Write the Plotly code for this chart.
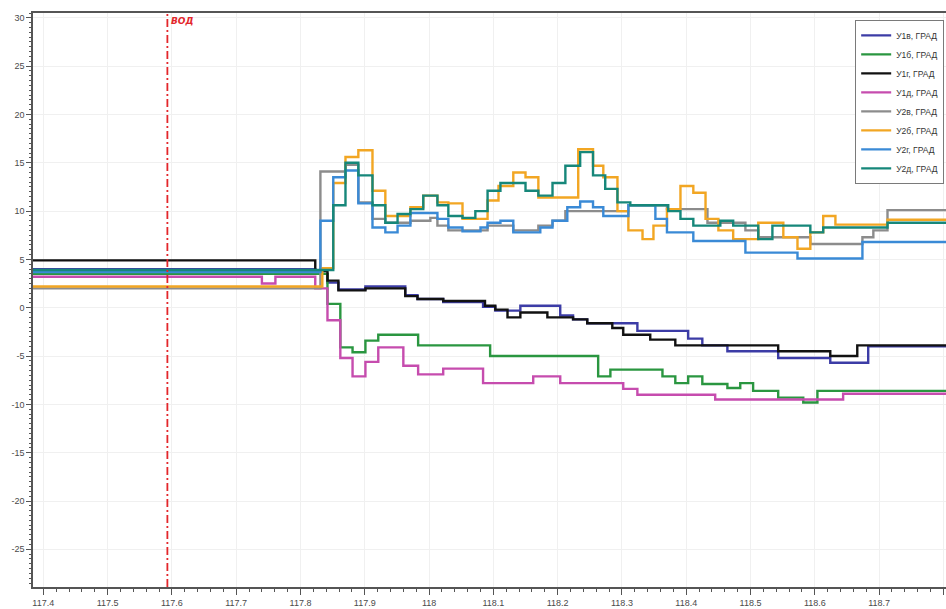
import plotly.graph_objects as go

# Step-sampled angle channels (time, value) – each value holds until the next time stamp
x_u1v = [117.38, 117.823, 117.842, 117.859, 117.901, 117.963, 117.982, 118.022, 118.084, 118.103,
         118.142, 118.204, 118.224, 118.246, 118.324, 118.403, 118.425, 118.464, 118.543, 118.624,
         118.683, 118.81]
y_u1v = [4.0, 3.5, 2.6, 1.9, 2.2, 1.3, 0.9, 0.6, 0.1, -0.3,
         0.2, -0.8, -1.2, -1.6, -2.4, -3.2, -3.9, -4.5, -5.2, -5.7,
         -4.0, -4.0]

x_u1b = [117.38, 117.842, 117.862, 117.881, 117.901, 117.921, 117.983, 118.095, 118.263, 118.282,
         118.363, 118.383, 118.403, 118.425, 118.464, 118.484, 118.504, 118.543, 118.582, 118.604,
         118.81]
y_u1b = [3.5, 0.4, -4.1, -4.6, -3.4, -2.8, -3.9, -5.0, -7.1, -6.4,
         -7.1, -7.8, -7.1, -7.9, -8.3, -7.8, -8.6, -9.3, -9.8, -8.6,
         -8.6]

x_u1g = [117.38, 117.823, 117.842, 117.859, 117.901, 117.963, 117.982, 118.022, 118.087, 118.103,
         118.122, 118.142, 118.184, 118.224, 118.246, 118.285, 118.302, 118.344, 118.383, 118.543,
         118.624, 118.666, 118.81]
y_u1g = [4.9, 3.8, 2.8, 1.8, 2.0, 1.2, 0.9, 0.7, 0.2, -0.2,
         -1.0, -0.5, -1.0, -1.2, -1.6, -2.1, -2.8, -3.3, -3.9, -4.5,
         -5.0, -3.9, -3.9]

x_u1d = [117.38, 117.74, 117.761, 117.823, 117.842, 117.862, 117.881, 117.901, 117.921, 117.960,
         117.983, 118.022, 118.084, 118.162, 118.204, 118.302, 118.324, 118.445, 118.644, 118.81]
y_u1d = [3.2, 2.5, 3.2, 2.0, -1.3, -5.2, -7.1, -5.6, -4.1, -6.0,
         -6.9, -6.3, -7.8, -7.1, -7.8, -8.4, -9.0, -9.5, -8.9, -8.9]

x_u2v = [117.38, 117.831, 117.870, 117.890, 117.912, 117.932, 117.971, 118.002, 118.013, 118.030,
         118.091, 118.131, 118.170, 118.192, 118.212, 118.310, 118.370, 118.433, 118.492, 118.512,
         118.593, 118.674, 118.691, 118.713, 118.81]
y_u2v = [2.0, 14.1, 14.8, 10.9, 9.2, 8.8, 9.0, 9.3, 8.5, 8.0,
         8.5, 8.0, 8.5, 9.0, 10.0, 10.6, 10.2, 8.8, 8.0, 7.3,
         6.6, 7.3, 8.0, 10.1, 10.1]

x_u2b = [117.38, 117.834, 117.851, 117.870, 117.890, 117.912, 117.932, 117.971, 117.991, 118.013,
         118.030, 118.052, 118.091, 118.108, 118.131, 118.150, 118.170, 118.232, 118.255, 118.271,
         118.293, 118.310, 118.332, 118.349, 118.370, 118.391, 118.411, 118.430, 118.450, 118.473,
         118.512, 118.551, 118.573, 118.593, 118.613, 118.632, 118.713, 118.81]
y_u2b = [2.2, 4.1, 12.9, 15.6, 16.3, 12.1, 9.5, 10.4, 11.6, 10.9,
         10.8, 9.2, 11.1, 12.6, 14.0, 13.5, 11.4, 16.4, 14.7, 13.5,
         10.0, 8.0, 7.1, 8.5, 10.2, 12.6, 11.9, 9.2, 8.0, 7.1,
         8.8, 7.3, 6.1, 7.8, 9.5, 8.6, 9.1, 9.1]

x_u2g = [117.38, 117.831, 117.851, 117.870, 117.890, 117.912, 117.932, 117.951, 117.971, 118.013,
         118.030, 118.052, 118.080, 118.091, 118.111, 118.131, 118.173, 118.192, 118.215, 118.235,
         118.255, 118.271, 118.310, 118.352, 118.370, 118.411, 118.492, 118.573, 118.674, 118.81]
y_u2g = [3.7, 9.0, 13.5, 14.2, 10.8, 8.3, 7.8, 8.5, 9.8, 9.2,
         8.3, 7.9, 8.3, 8.8, 9.0, 7.8, 8.3, 9.0, 10.4, 11.0,
         10.4, 9.5, 10.6, 9.2, 7.8, 6.9, 5.7, 5.1, 6.8, 6.8]

x_u2d = [117.38, 117.851, 117.870, 117.890, 117.912, 117.932, 117.951, 117.971, 117.991, 118.013,
         118.030, 118.052, 118.072, 118.091, 118.111, 118.150, 118.170, 118.192, 118.212, 118.235,
         118.255, 118.274, 118.293, 118.313, 118.372, 118.391, 118.411, 118.453, 118.473, 118.512,
         118.534, 118.593, 118.613, 118.713, 118.81]
y_u2d = [3.9, 10.6, 15.0, 13.7, 10.6, 8.8, 9.7, 10.2, 11.6, 10.6,
         9.5, 9.3, 10.0, 12.1, 12.9, 12.1, 11.6, 12.9, 14.7, 16.1,
         13.7, 12.3, 10.9, 10.6, 10.0, 9.2, 8.5, 9.0, 8.5, 7.1,
         8.5, 7.8, 8.3, 8.8, 8.8]

series_names = ["У1в, ГРАД", "У1б, ГРАД", "У1г, ГРАД", "У1д, ГРАД",
                "У2в, ГРАД", "У2б, ГРАД", "У2г, ГРАД", "У2д, ГРАД"]
series_x = [x_u1v, x_u1b, x_u1g, x_u1d, x_u2v, x_u2b, x_u2g, x_u2d]
series_y = [y_u1v, y_u1b, y_u1g, y_u1d, y_u2v, y_u2b, y_u2g, y_u2d]
series_colors = ["#3c3ca6", "#2a9640", "#111111", "#c64cae",
                 "#8c8c8c", "#f2a623", "#3a8ad6", "#16877a"]

# Event marker
event_time = 117.593
event_label = "ВОД"

x_tick_vals = [117.4, 117.5, 117.6, 117.7, 117.8, 117.9, 118.0, 118.1, 118.2, 118.3,
               118.4, 118.5, 118.6, 118.7, 118.8]
x_tick_text = ["117.4", "117.5", "117.6", "117.7", "117.8", "117.9", "118", "118.1", "118.2",
               "118.3", "118.4", "118.5", "118.6", "118.7", "118.8"]
y_tick_vals = [30, 25, 20, 15, 10, 5, 0, -5, -10, -15, -20, -25]
y_tick_text = ["30", "25", "20", "15", "10", "5", "0", "-5", "-10", "-15", "-20", "-25"]

fig = go.Figure()
for name, xs, ys, color in zip(series_names, series_x, series_y, series_colors):
    fig.add_trace(go.Scatter(
        x=xs, y=ys, mode="lines", name=name,
        line=dict(shape="hv", color=color, width=2.4),
    ))

fig.add_shape(type="line", xref="x", yref="paper", x0=event_time, x1=event_time, y0=0, y1=1,
              line=dict(color="#e3262b", width=1.8, dash="8px,3px,2px,3px"))
fig.add_annotation(x=event_time, y=1, xref="x", yref="paper", text="<b><i>" + event_label + "</i></b>",
                   showarrow=False, xanchor="left", yanchor="top", xshift=2, yshift=-1,
                   font=dict(family="DejaVu Sans", size=9, color="#e3262b"))

tick_font = dict(family="Liberation Sans Narrow, Arial Narrow, sans-serif", size=9, color="#4a4a4a")
axis_color = "#555555"

fig.update_layout(
    width=946, height=609,
    margin=dict(l=33, r=0, t=13, b=22, autoexpand=False),
    paper_bgcolor="white", plot_bgcolor="white",
    showlegend=True,
    legend=dict(x=0.998, y=0.988, xanchor="right", yanchor="top",
                bgcolor="white", bordercolor="#7a7a7a", borderwidth=1,
                font=dict(family="Liberation Sans Narrow, Arial Narrow, sans-serif", size=8.5, color="#333333"),
                itemwidth=30, tracegroupgap=0),
    xaxis=dict(range=[117.384, 118.804], tickvals=x_tick_vals, ticktext=x_tick_text,
               showline=True, linecolor=axis_color, linewidth=1.5, mirror=True,
               ticks="outside", ticklen=6, tickcolor=axis_color, tickwidth=1,
               showgrid=True, gridcolor="#f0f0f0", gridwidth=1, zeroline=False,
               tickfont=tick_font,
               minor=dict(dtick=0.02, ticks="outside", ticklen=3, tickcolor=axis_color, showgrid=False)),
    yaxis=dict(range=[-28.9, 30.5], tickvals=y_tick_vals, ticktext=y_tick_text,
               showline=True, linecolor=axis_color, linewidth=1.5, mirror=False,
               ticks="outside", ticklen=5, tickcolor=axis_color, tickwidth=1,
               showgrid=True, gridcolor="#f0f0f0", gridwidth=1, zeroline=False,
               tickfont=tick_font,
               minor=dict(dtick=0.5, ticks="outside", ticklen=2.5, tickcolor=axis_color, showgrid=False)),
)

fig.write_html("out.html")
